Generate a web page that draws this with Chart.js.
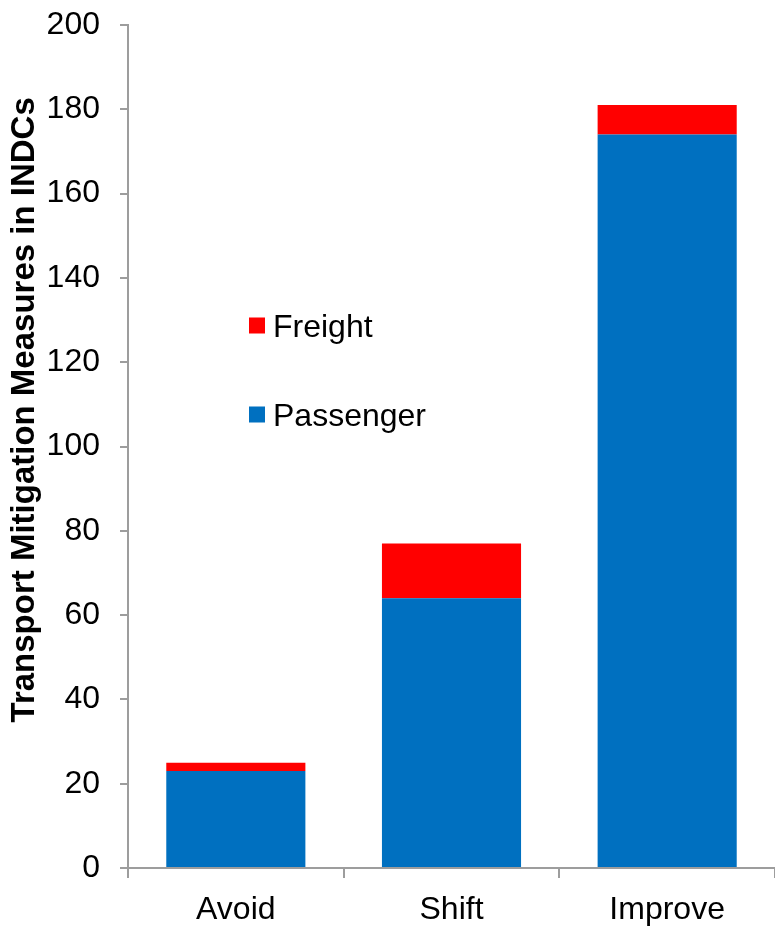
<!DOCTYPE html>
<html>
<head>
<meta charset="utf-8">
<script src="https://cdn.jsdelivr.net/npm/chart.js@4"></script>
<style>
  body { margin: 0; background: #fff; }
  #wrap { width: 775px; height: 926px; position: relative; }
</style>
</head>
<body>
<div id="wrap"><canvas id="myChart"></canvas></div>
<script>
const categories = ['Avoid', 'Shift', 'Improve'];
const passenger = [23, 64, 174];
const freight = [2, 13, 7];
const yTicks = [0, 20, 40, 60, 80, 100, 120, 140, 160, 180, 200];

const FONT = '"Liberation Sans", Arial, sans-serif';
const AXIS_GREY = '#9d9d9d';

// legend sits inside the plot, Freight above Passenger
const insideLegend = {
    id: 'insideLegend',
    afterDatasetsDraw(chart) {
        const {ctx, chartArea} = chart;
        const items = chart.data.datasets.slice().reverse();
        ctx.save();
        ctx.font = '32px ' + FONT;
        ctx.textBaseline = 'alphabetic';
        items.forEach((ds, i) => {
            const x = chartArea.left + 121;
            const cy = chartArea.top + 300.5 + i * 89;
            ctx.fillStyle = ds.backgroundColor;
            ctx.fillRect(x, cy - 8, 16, 16);
            ctx.fillStyle = '#000';
            ctx.fillText(ds.label, x + 24, cy + 11.5);
        });
        ctx.restore();
    }
};

new Chart(document.getElementById('myChart'), {
    type: 'bar',
    data: {
        labels: categories,
        datasets: [
            {label: 'Passenger', data: passenger, backgroundColor: '#0070C0'},
            {label: 'Freight', data: freight, backgroundColor: '#FF0000'}
        ]
    },
    options: {
        responsive: true,
        maintainAspectRatio: false,
        animation: false,
        barPercentage: 0.645,
        categoryPercentage: 1,
        layout: {padding: {top: 25, right: 0, bottom: 0, left: 0}},
        plugins: {
            legend: {display: false},
            tooltip: {enabled: false}
        },
        scales: {
            x: {
                stacked: true,
                offset: true,
                afterFit: (s) => { s.height = 58; },
                grid: {offset: true, drawOnChartArea: false, tickLength: 10, color: AXIS_GREY, lineWidth: 2},
                border: {color: AXIS_GREY, width: 2},
                ticks: {color: '#000', padding: 13, font: {family: FONT, size: 32}}
            },
            y: {
                stacked: true,
                min: 0,
                max: 200,
                afterFit: (s) => { s.width = 128; s.paddingTop = 0; s.paddingBottom = 0; },
                afterBuildTicks: (s) => { s.ticks = yTicks.map(v => ({value: v})); },
                grid: {drawOnChartArea: false, tickLength: 8, color: AXIS_GREY, lineWidth: 2},
                border: {color: AXIS_GREY, width: 2},
                ticks: {color: '#000', padding: 20, font: {family: FONT, size: 32}},
                title: {
                    display: true,
                    text: '\u00a0'.repeat(8) + 'Transport Mitigation Measures in INDCs',
                    color: '#000',
                    padding: {top: 5, bottom: 0},
                    font: {family: FONT, size: 33, weight: 'bold'}
                }
            }
        }
    },
    plugins: [insideLegend]
});
</script>
</body>
</html>
